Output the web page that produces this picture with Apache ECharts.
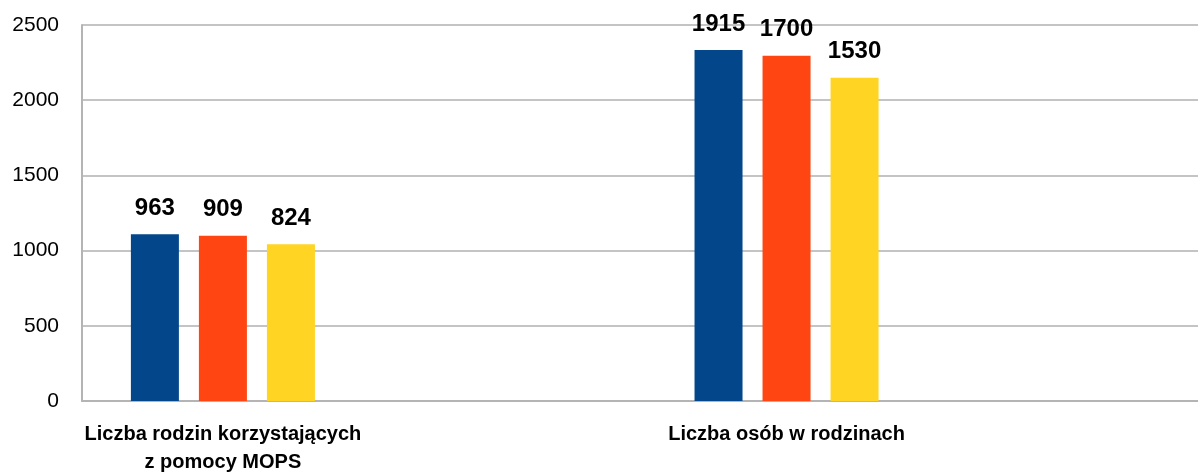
<!DOCTYPE html>
<html lang="pl">
<head>
    <meta charset="UTF-8">
    <title>MOPS</title>
    <style>
        html, body { margin: 0; padding: 0; background: #ffffff; }
        #main { width: 1198px; height: 472px; }
    </style>
</head>
<body>
<div id="main"></div>

<script src="https://cdn.jsdelivr.net/npm/echarts@6/dist/echarts.min.js"></script>
<script>
    // kategorie osi X
    var categories = ['Liczba rodzin korzystających\nz pomocy MOPS', 'Liczba osób w rodzinach'];
    var seriesA = [1108, 2334];
    var seriesB = [1099, 2296];
    var seriesC = [1042, 2150];
    // etykiety danych wypisane nad słupkami
    var labelsA = [963, 1915];
    var labelsB = [909, 1700];
    var labelsC = [824, 1530];
    var yTicks = [0, 500, 1000, 1500, 2000, 2500];

    var colors = ['#03468a', '#ff4512', '#ffd423'];
    var font = '"Liberation Sans", Arial, sans-serif';

    function makeSeries(name, values, labels, color) {
        return {
            name: name,
            type: 'bar',
            barWidth: 48,
            barGap: '41.7%',
            itemStyle: { color: color },
            label: {
                show: true,
                position: 'top',
                distance: 14,
                color: '#000',
                fontFamily: font,
                fontWeight: 'bold',
                fontSize: 24,
                formatter: function (p) { return labels[p.dataIndex]; }
            },
            data: values.map(function (v, i) { return [i, v]; })
        };
    }

    var chart = echarts.init(document.querySelector('#main'));

    chart.setOption({
        animation: false,
        grid: { left: 82, right: 0, top: 25, bottom: 71, outerBoundsMode: 'none', containLabel: false },
        xAxis: {
            type: 'value',
            min: -0.25,
            max: 1.73,
            splitLine: { show: false },
            axisTick: { show: false },
            axisLine: { show: true, lineStyle: { color: '#b4b4b4', width: 2 } },
            axisLabel: {
                customValues: [0, 1],
                margin: 19,
                color: '#000',
                fontFamily: font,
                fontWeight: 'bold',
                fontSize: 20,
                lineHeight: 28,
                align: 'center',
                formatter: function (v) { return categories[Math.round(v)]; }
            }
        },
        yAxis: {
            type: 'value',
            min: yTicks[0],
            max: yTicks[yTicks.length - 1],
            interval: yTicks[1] - yTicks[0],
            axisTick: { show: false },
            axisLine: { show: true, onZero: false, lineStyle: { color: '#b4b4b4', width: 2 } },
            splitLine: { lineStyle: { color: '#c4c4c4', width: 2 } },
            axisLabel: {
                margin: 23,
                color: '#000',
                fontFamily: font,
                fontSize: 21,
                formatter: function (v) { return String(v); }
            }
        },
        series: [
            makeSeries('A', seriesA, labelsA, colors[0]),
            makeSeries('B', seriesB, labelsB, colors[1]),
            makeSeries('C', seriesC, labelsC, colors[2])
        ]
    });
</script>
</body>
</html>
